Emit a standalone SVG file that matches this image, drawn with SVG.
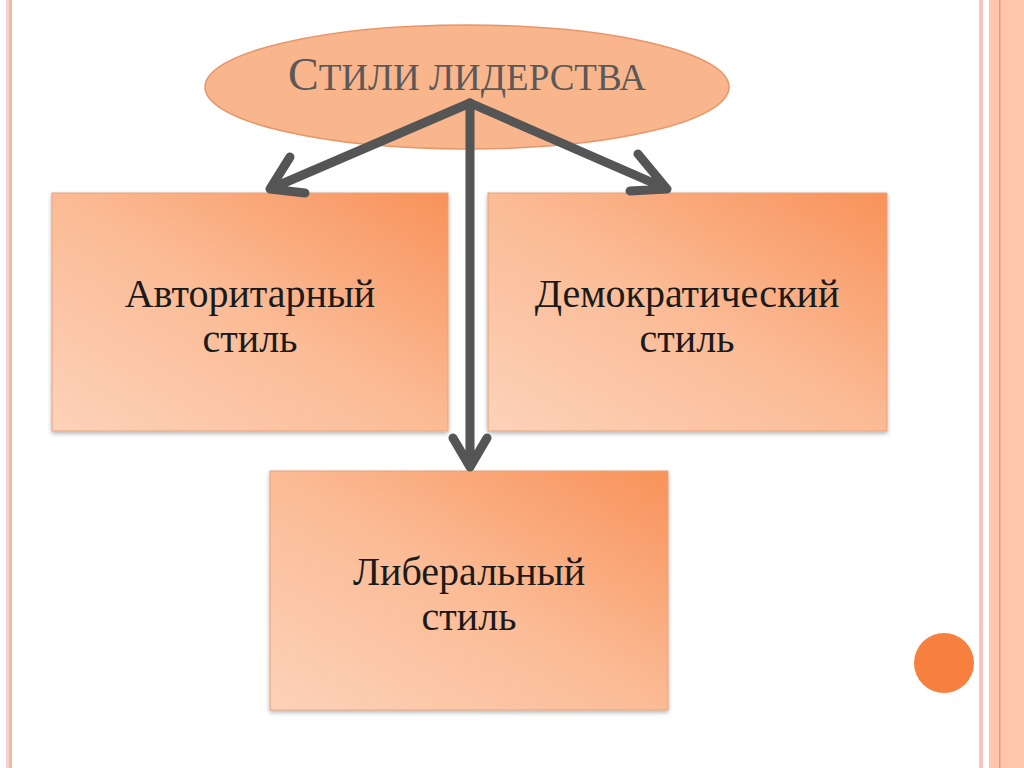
<svg xmlns="http://www.w3.org/2000/svg" width="1024" height="768" viewBox="0 0 1024 768">
<style>
.t{font-family:"Liberation Serif","DejaVu Serif",serif;font-size:40px;fill:#1a1a1a;text-anchor:middle}
.box{stroke:#e8a27a;stroke-width:1;fill:url(#g)}
.arr{stroke:#555;stroke-width:9;fill:none;stroke-linecap:round;stroke-linejoin:round}
</style>
<defs>
<linearGradient id="g" x1="0" y1="1" x2="1" y2="0">
<stop offset="0" stop-color="#fdd2ba"/>
<stop offset="0.5" stop-color="#fbbb95"/>
<stop offset="1" stop-color="#f8925a"/>
</linearGradient>
<filter id="sh" x="-10%" y="-10%" width="120%" height="120%"><feDropShadow dx="0" dy="2" stdDeviation="2" flood-opacity="0.3"/></filter>
</defs>
<rect width="1024" height="768" fill="#fff"/>
<rect x="6" y="0" width="3" height="768" fill="#f6d3d0"/>
<rect x="9" y="0" width="3" height="768" fill="#f2b9a2"/>
<rect x="979" y="0" width="4" height="768" fill="#f8c6c0"/>
<rect x="989" y="0" width="35" height="768" fill="#fec6ac"/>
<rect x="999" y="0" width="1.5" height="768" fill="#e89a7a"/>
<circle cx="944" cy="663" r="30" fill="#f7803e"/>
<g id="title">
<ellipse cx="467" cy="87" rx="262" ry="62" fill="#f9b58c" stroke="#e8956a" stroke-width="1.5"/>
<text x="467" y="90" font-family="Liberation Serif,serif" font-size="46" fill="#595959" text-anchor="middle">С<tspan font-size="37">ТИЛИ ЛИДЕРСТВА</tspan></text>
</g>
<g id="n1"><rect class="box" x="52" y="193" width="396" height="238" filter="url(#sh)"/>
<text class="t" x="250" y="307">Авторитарный</text><text class="t" x="250" y="352">стиль</text></g>
<g id="n2"><rect class="box" x="488" y="193" width="399" height="238" filter="url(#sh)"/>
<text class="t" x="687" y="307">Демократический</text><text class="t" x="687" y="352">стиль</text></g>
<g id="n3"><rect class="box" x="270" y="471" width="398" height="239" filter="url(#sh)"/>
<text class="t" x="469" y="585">Либеральный</text><text class="t" x="469" y="630">стиль</text></g>
<g id="connectors" class="arr">
<path d="M470 103 L270 189 M290 157 L270 189 L305 193"/>
<path d="M470 103 L667 189 M638 154 L667 189 L630 191"/>
<path d="M470 103 L470 467 M453 438 L470 467 L487 438"/>
</g>
</svg>
